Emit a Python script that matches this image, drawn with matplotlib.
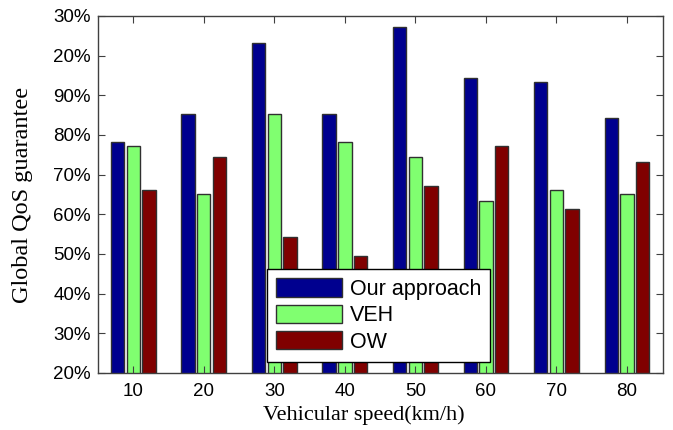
import numpy as np
import matplotlib
matplotlib.use("Agg")
import matplotlib.pyplot as plt

# data
speeds = ["10", "20", "30", "40", "50", "60", "70", "80"]
our_approach = [78.3, 85.2, 103.3, 85.2, 107.3, 94.4, 93.4, 84.2]
veh = [77.3, 65.1, 85.2, 78.3, 74.4, 63.4, 66.1, 65.1]
ow = [66.1, 74.4, 54.2, 49.5, 67.2, 77.3, 61.3, 73.3]
ytick_vals = [20, 30, 40, 50, 60, 70, 80, 90, 100, 110]
ytick_labels = ["20%", "30%", "40%", "50%", "60%", "70%", "80%", "90%", "20%", "30%"]

plt.rcParams['font.family'] = ['Liberation Sans', 'DejaVu Sans']

fig = plt.figure(figsize=(6.73, 4.30), dpi=100)
ax = fig.add_axes([0.1456, 0.1326, 0.8394, 0.8302])

x = np.arange(1, len(speeds) + 1)
w = 0.19
step = 0.222
edge = dict(edgecolor='#303030', linewidth=1.0)
ax.bar(x - step, our_approach, w, color='#00008F', label='Our approach', **edge)
ax.bar(x, veh, w, color='#80FF70', label='VEH', **edge)
ax.bar(x + step, ow, w, color='#800000', label='OW', **edge)

ax.set_xlim(0.5, 8.51)
ax.set_ylim(20, 110)
ax.set_xticks(x)
ax.set_xticklabels(speeds, fontsize=13.5)
ax.set_yticks(ytick_vals)
ax.set_yticklabels(ytick_labels, fontsize=13.5)
ax.tick_params(direction='in', length=5, top=True, right=True, color='#404040')
ax.tick_params(axis='x', pad=7)
ax.tick_params(axis='y', pad=5)
for s in ax.spines.values():
    s.set_color('#404040')
    s.set_linewidth(1.0)

ax.set_xlabel("Vehicular speed(km/h)", family='Liberation Serif', fontsize=16)
ax.set_ylabel("Global QoS guarantee", family='Liberation Serif', fontsize=17.5)
ax.xaxis.set_label_coords(0.471, -0.09)
ax.yaxis.set_label_coords(-0.115, 0.5)

leg = ax.legend(loc='lower left', bbox_to_anchor=(0.2986, 0.0317), borderaxespad=0,
                fontsize=15.5, fancybox=False, framealpha=1, handlelength=3.07,
                handleheight=0.93, labelspacing=0.22, handletextpad=0.37,
                borderpad=0.42)
leg.get_frame().set_edgecolor('black')
leg.get_frame().set_linewidth(1.0)

fig.savefig("out.png", dpi=100)
